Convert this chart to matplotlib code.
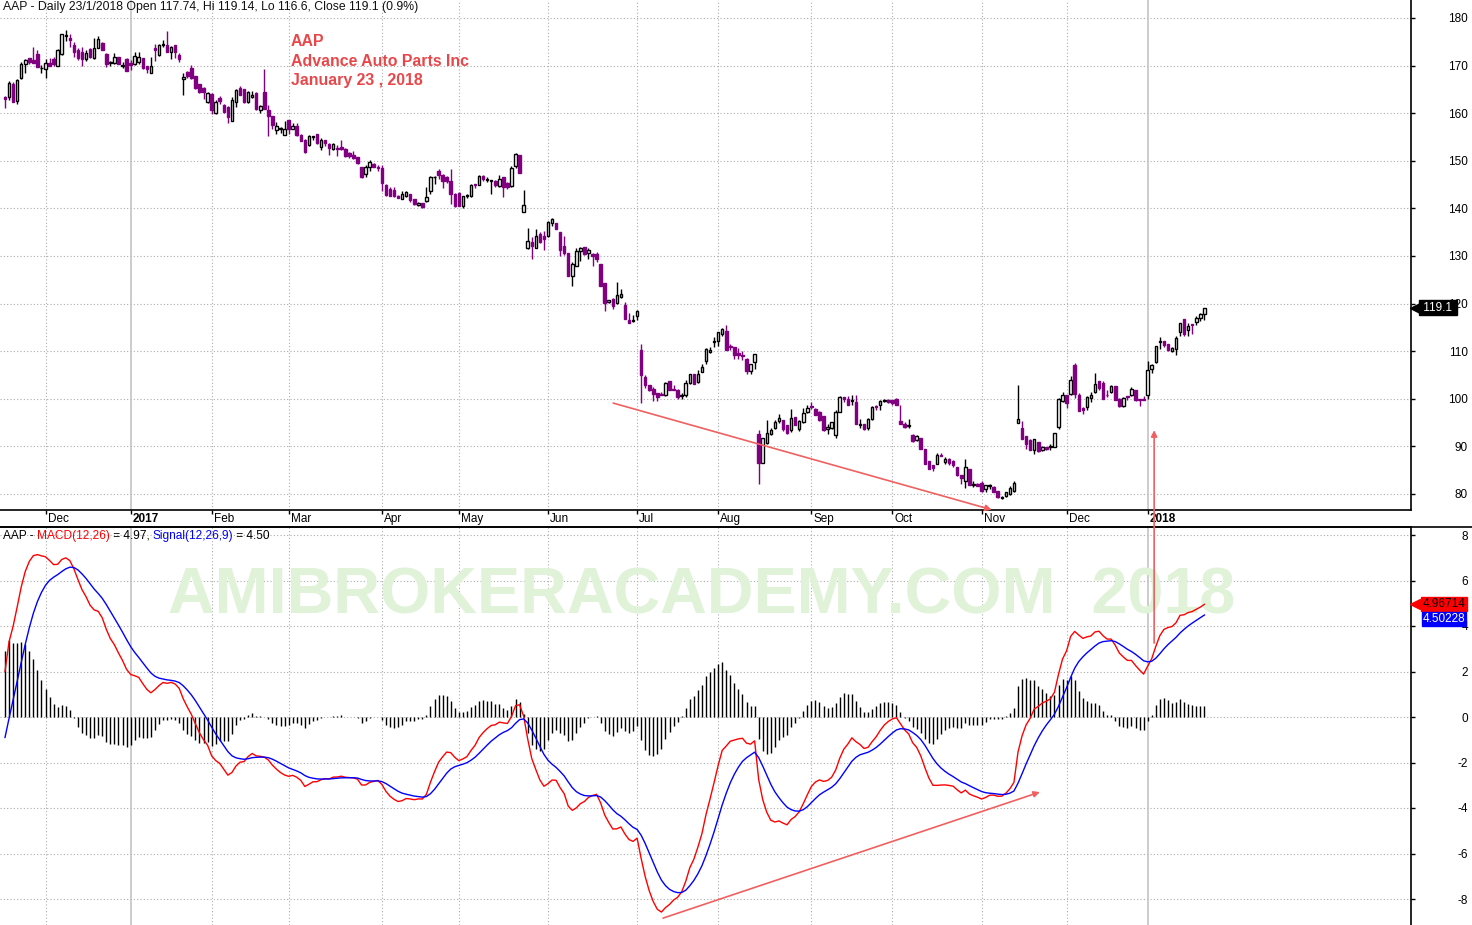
import numpy as np
import matplotlib
matplotlib.use("Agg")
import matplotlib.pyplot as plt
from matplotlib.transforms import blended_transform_factory, ScaledTranslation
from matplotlib.offsetbox import TextArea, HPacker, AnchoredOffsetbox
from matplotlib.lines import Line2D
from matplotlib.patches import ConnectionPatch

plt.rcParams['font.family'] = ['Liberation Sans', 'DejaVu Sans']
plt.rcParams['axes.unicode_minus'] = False

# ---------------- data (AAP daily, 2016-11-16 .. 2018-01-23) ----------------
opens = [
    163.3, 163.3, 166.1, 162.6, 167.4, 170.3, 171.7, 171.1, 172.4, 169.4,
    169.2, 170.5, 171.4, 169.9, 172.4, 176.3, 175.8, 174.3, 173.2, 172.9,
    171.4, 173.4, 171.5, 173.75, 174.7, 172.5, 170.5, 170.6, 171.9, 170.0,
    171.3, 170.5, 170.3, 170.8, 171.5, 170.0, 168.5, 173.6, 172.2, 174.3,
    174.4, 172.9, 174.3, 172.2, 167.2, 168.7, 169.4, 167.8, 166.1, 165.2,
    162.3, 164.0, 160.0, 163.1, 161.7, 161.4, 158.3, 162.3, 165.2, 165.0,
    162.3, 163.3, 164.3, 160.6, 164.4, 160.7, 159.4, 156.4, 156.7, 155.5,
    158.5, 156.6, 157.4, 155.5, 154.4, 153.4, 155.0, 155.7, 152.9, 154.4,
    153.6, 152.5, 152.6, 152.9, 152.5, 151.7, 151.3, 150.8, 148.7, 147.3,
    148.7, 149.4, 148.6, 148.5, 145.0, 144.1, 143.9, 142.7, 142.0, 142.6,
    143.1, 142.0, 140.7, 141.1, 141.5, 143.6, 146.5, 147.8, 147.1, 146.5,
    145.7, 143.1, 143.3, 140.5, 142.6, 142.7, 145.1, 145.0, 146.9, 145.9,
    145.8, 145.8, 144.7, 146.6, 145.4, 144.7, 148.9, 151.2, 139.3, 131.7,
    132.9, 131.7, 134.7, 134.2, 134.2, 137.0, 136.9, 135.1, 132.1, 130.6,
    125.9, 128.0, 131.0, 131.8, 130.6, 130.4, 130.5, 128.4, 124.4, 120.3,
    121.0, 120.2, 121.4, 119.8, 116.5, 116.4, 117.4, 110.3, 104.5, 102.8,
    102.1, 101.2, 101.1, 100.7, 103.7, 102.0, 101.9, 100.6, 100.7, 103.3,
    105.2, 103.5, 105.7, 108.0, 109.8, 111.9, 112.1, 113.6, 114.3, 111.1,
    110.8, 109.6, 109.2, 108.4, 105.9, 107.8, 92.5, 86.5, 90.8, 92.7,
    93.8, 95.3, 95.5, 94.5, 93.4, 96.1, 93.6, 95.2, 97.2, 98.4,
    97.8, 97.3, 96.3, 93.6, 93.9, 92.4, 97.2, 100.3, 100.0, 99.5,
    99.3, 94.6, 94.8, 93.9, 95.8, 98.4, 98.6, 99.5, 99.8, 99.8,
    100.0, 95.3, 94.8, 94.2, 92.4, 91.3, 91.8, 89.5, 86.9, 86.1,
    86.4, 88.2, 86.7, 87.4, 87.0, 85.7, 83.9, 82.8, 85.3, 81.9,
    82.1, 82.3, 81.1, 81.6, 81.5, 80.7, 79.2, 79.5, 80.0, 80.7,
    94.9, 93.9, 92.1, 91.3, 89.2, 90.9, 89.2, 89.8, 89.8, 89.9,
    94.1, 99.5, 100.8, 101.0, 107.1, 100.7, 98.1, 98.3, 100.1, 101.5,
    103.7, 103.3, 100.9, 101.4, 102.6, 100.0, 98.5, 100.5, 100.7, 101.9,
    100.0, 100.0, 100.8, 106.3, 107.7, 111.9, 112.1, 111.6, 110.0, 110.5,
    114.1, 116.7, 114.5, 115.7, 116.2, 117.0, 117.74,
]
highs = [
    163.7, 166.7, 166.5, 167.2, 170.7, 171.4, 171.7, 174.0, 173.2, 170.2,
    171.3, 171.7, 171.8, 173.4, 176.7, 177.5, 176.6, 175.0, 173.6, 173.9,
    173.2, 173.75, 175.7, 176.3, 175.0, 172.7, 170.9, 172.7, 171.9, 170.8,
    171.6, 171.2, 172.9, 172.9, 171.7, 170.0, 171.8, 174.6, 174.6, 175.3,
    177.2, 174.1, 174.3, 172.7, 168.5, 168.8, 170.1, 167.8, 166.1, 165.4,
    164.5, 164.3, 162.8, 163.6, 162.0, 161.6, 163.3, 165.1, 165.7, 165.0,
    164.7, 164.6, 164.4, 161.8, 169.3, 161.7, 159.4, 158.1, 157.2, 158.4,
    158.5, 158.0, 158.0, 155.7, 154.6, 155.5, 155.3, 155.7, 154.8, 154.4,
    153.8, 153.7, 153.3, 154.3, 152.6, 151.8, 152.1, 150.8, 148.7, 149.1,
    150.1, 149.6, 149.1, 149.1, 145.2, 144.5, 144.5, 142.8, 143.6, 143.6,
    143.1, 142.0, 141.4, 141.1, 144.4, 146.8, 146.8, 148.3, 147.3, 146.8,
    148.2, 143.3, 143.4, 142.7, 143.0, 145.2, 145.1, 147.0, 147.0, 146.5,
    146.0, 146.0, 147.0, 146.7, 145.5, 148.9, 151.7, 151.2, 143.8, 135.8,
    133.9, 135.6, 135.0, 135.2, 137.3, 138.0, 137.0, 135.1, 134.1, 130.6,
    128.7, 131.6, 131.8, 131.9, 131.6, 130.7, 130.9, 128.4, 124.4, 120.7,
    121.2, 124.5, 123.1, 120.4, 118.1, 117.6, 118.6, 111.5, 104.9, 102.9,
    102.4, 101.3, 101.4, 103.5, 103.8, 102.8, 102.1, 101.2, 104.0, 105.2,
    105.2, 106.0, 107.3, 110.6, 110.8, 112.9, 114.1, 114.8, 115.4, 111.5,
    110.8, 110.6, 110.0, 108.5, 107.4, 109.5, 93.5, 91.7, 95.5, 93.9,
    95.6, 96.8, 95.5, 94.5, 97.8, 96.1, 95.6, 98.1, 98.6, 99.4,
    98.0, 97.4, 96.4, 94.7, 95.2, 97.7, 100.5, 100.3, 100.5, 100.8,
    100.7, 95.7, 94.8, 95.9, 98.4, 98.6, 99.8, 100.0, 100.0, 99.8,
    100.1, 98.6, 95.1, 95.7, 92.6, 92.3, 91.8, 89.5, 86.9, 86.1,
    88.6, 88.7, 87.8, 87.6, 87.1, 85.7, 83.9, 87.4, 85.3, 82.8,
    82.3, 82.8, 81.9, 82.1, 81.7, 80.7, 79.5, 80.4, 81.6, 82.8,
    102.8, 95.3, 92.1, 91.5, 91.6, 90.9, 90.1, 89.8, 90.5, 92.8,
    100.2, 101.4, 100.8, 104.7, 107.5, 101.2, 98.3, 100.6, 101.4, 105.4,
    103.8, 103.8, 101.8, 102.9, 102.6, 100.1, 100.3, 100.6, 102.5, 101.9,
    100.0, 100.5, 107.9, 107.4, 111.0, 112.9, 112.2, 111.6, 110.8, 113.1,
    116.0, 116.7, 116.0, 115.7, 117.3, 118.1, 119.14,
]
lows = [
    161.0, 162.8, 162.3, 162.0, 167.2, 168.5, 170.3, 170.6, 169.7, 168.4,
    167.5, 170.0, 169.9, 169.9, 172.2, 175.2, 174.0, 171.9, 171.1, 169.9,
    171.0, 171.5, 171.3, 173.6, 173.2, 169.7, 170.0, 170.4, 170.3, 169.4,
    168.8, 169.1, 170.1, 170.4, 169.2, 168.5, 168.5, 171.0, 172.0, 173.9,
    172.9, 171.4, 171.5, 170.7, 163.8, 167.4, 167.2, 165.1, 164.2, 163.0,
    162.2, 159.9, 159.9, 162.0, 160.0, 157.9, 158.3, 161.4, 163.9, 162.2,
    162.1, 163.2, 160.6, 160.0, 160.8, 155.3, 156.7, 155.7, 155.9, 155.4,
    155.7, 156.6, 155.2, 154.2, 151.7, 153.1, 154.3, 153.6, 152.2, 153.1,
    151.2, 152.2, 151.1, 152.2, 150.7, 150.5, 150.3, 149.4, 146.3, 146.6,
    147.8, 148.7, 147.9, 143.6, 142.7, 142.6, 142.5, 142.1, 141.9, 142.4,
    141.4, 140.8, 140.5, 140.1, 141.3, 143.1, 145.1, 146.2, 144.3, 145.4,
    141.0, 140.3, 140.5, 140.1, 142.2, 142.5, 144.2, 144.9, 145.7, 145.6,
    143.1, 144.5, 144.5, 142.4, 144.0, 144.6, 148.4, 147.4, 139.2, 131.4,
    129.4, 131.6, 132.8, 131.3, 134.0, 136.3, 135.6, 130.1, 130.3, 125.9,
    123.7, 127.8, 128.9, 130.3, 129.3, 127.8, 128.7, 123.7, 118.4, 120.1,
    118.9, 120.0, 121.1, 116.7, 115.9, 116.2, 116.5, 99.1, 102.2, 101.7,
    99.6, 99.6, 100.7, 100.6, 101.9, 101.8, 99.9, 100.0, 100.3, 103.1,
    103.1, 103.4, 105.6, 107.3, 109.7, 110.9, 111.0, 113.2, 110.3, 110.2,
    108.4, 108.4, 108.2, 105.2, 105.2, 106.3, 82.2, 86.5, 90.6, 92.3,
    93.7, 95.0, 93.3, 92.7, 93.1, 94.5, 93.2, 95.0, 97.0, 97.9,
    96.6, 95.4, 93.2, 92.7, 93.6, 91.8, 97.2, 99.4, 98.6, 98.7,
    94.8, 93.9, 93.4, 93.4, 95.6, 97.6, 97.7, 99.3, 99.1, 98.8,
    98.6, 94.7, 93.8, 93.9, 91.0, 91.1, 89.4, 86.4, 85.3, 84.9,
    86.2, 87.9, 86.4, 86.1, 85.7, 83.8, 82.1, 81.2, 81.8, 81.4,
    81.6, 80.5, 80.5, 81.1, 80.4, 79.1, 78.9, 79.3, 79.8, 80.5,
    94.9, 91.5, 89.5, 89.2, 88.4, 88.9, 89.1, 89.2, 89.2, 89.8,
    93.6, 99.3, 98.0, 100.8, 100.1, 97.4, 96.8, 97.6, 99.3, 101.3,
    101.9, 100.0, 100.3, 101.2, 99.7, 98.3, 98.3, 99.8, 100.6, 99.5,
    98.5, 99.7, 100.0, 105.5, 107.6, 110.4, 110.9, 110.0, 109.8, 109.2,
    113.1, 113.1, 113.1, 113.6, 115.6, 116.3, 116.6,
]
closes = [
    163.0, 166.25, 162.4, 166.9, 170.3, 171.1, 170.8, 170.6, 169.7, 169.6,
    170.6, 170.0, 170.3, 173.2, 176.7, 176.5, 175.3, 172.9, 171.5, 171.4,
    172.7, 171.8, 173.6, 175.5, 173.2, 170.3, 170.7, 171.8, 170.4, 170.2,
    168.9, 170.2, 172.0, 171.9, 169.4, 169.2, 169.9, 173.3, 174.3, 174.5,
    172.9, 174.0, 172.9, 171.4, 167.7, 167.8, 167.4, 165.3, 164.4, 164.5,
    164.2, 160.6, 162.3, 162.5, 160.2, 159.2, 162.8, 164.9, 163.9, 162.3,
    164.5, 163.8, 160.9, 161.5, 160.9, 159.5, 157.6, 157.3, 156.9, 156.6,
    156.6, 157.3, 155.5, 154.2, 151.8, 155.2, 155.2, 153.8, 154.4, 153.8,
    152.7, 153.5, 152.4, 152.4, 151.1, 151.0, 150.6, 149.6, 146.6, 148.7,
    149.7, 148.7, 148.4, 145.4, 142.9, 142.7, 142.6, 142.2, 143.1, 143.4,
    141.7, 141.0, 141.2, 140.3, 142.4, 146.6, 146.7, 147.1, 145.7, 145.7,
    143.1, 140.6, 140.5, 142.6, 142.9, 145.0, 145.0, 146.9, 146.1, 146.1,
    146.0, 145.0, 146.1, 144.5, 144.5, 148.5, 151.5, 147.4, 140.8, 133.1,
    132.1, 134.2, 132.9, 133.5, 137.2, 137.7, 135.6, 131.2, 130.7, 125.9,
    128.4, 131.0, 131.7, 130.5, 131.3, 130.1, 129.4, 123.7, 120.2, 120.7,
    119.6, 121.9, 122.1, 116.7, 116.0, 116.6, 118.4, 105.0, 102.9, 101.9,
    101.0, 100.3, 100.9, 103.3, 101.9, 101.8, 100.3, 100.9, 103.3, 105.2,
    103.1, 105.2, 106.6, 110.5, 110.3, 112.1, 114.0, 114.6, 110.3, 110.9,
    109.3, 109.3, 109.0, 105.9, 107.3, 109.4, 86.5, 91.7, 92.9, 93.4,
    95.2, 95.9, 93.6, 92.9, 95.9, 94.6, 95.3, 97.1, 98.0, 98.2,
    96.7, 95.5, 93.4, 94.1, 95.1, 97.3, 100.3, 100.0, 98.7, 99.8,
    94.8, 94.8, 93.6, 95.8, 98.2, 98.3, 99.6, 99.7, 99.3, 99.1,
    98.7, 94.8, 94.1, 94.4, 91.1, 92.2, 89.4, 86.4, 85.3, 85.4,
    88.1, 87.9, 87.4, 86.6, 86.0, 83.9, 83.3, 85.7, 81.9, 82.1,
    81.6, 80.7, 81.8, 81.9, 80.5, 79.3, 79.4, 80.4, 81.2, 82.3,
    95.8, 91.5, 90.4, 89.2, 91.5, 89.0, 89.8, 89.4, 90.0, 92.8,
    100.0, 100.9, 99.2, 104.0, 101.0, 97.4, 97.7, 100.4, 100.8, 103.1,
    102.3, 100.0, 100.7, 102.6, 99.7, 98.5, 100.1, 100.3, 102.1, 99.7,
    99.7, 99.7, 106.1, 107.1, 111.0, 112.1, 111.4, 110.3, 110.6, 112.8,
    115.9, 113.6, 115.2, 115.5, 116.9, 117.9, 119.1,
]

# month boundaries (bar index of first session of the month) and labels
month_pos = [10, 31, 51, 70, 93, 112, 134, 156, 176, 199, 219, 241, 262, 282]
month_labels = ['Dec', '2017', 'Feb', 'Mar', 'Apr', 'May', 'Jun', 'Jul',
                'Aug', 'Sep', 'Oct', 'Nov', 'Dec', '2018']

price_ticks = [80, 90, 100, 110, 120, 130, 140, 150, 160, 170, 180]
macd_ticks = [-8, -6, -4, -2, 0, 2, 4, 6, 8]

# indicator state at the first visible bar
ema12_seed = 148.0
ema26_seed = 146.0
signal_seed = -0.9

last_close_label = "119.1"
macd_label_value = 4.96714
signal_label_value = 4.50228

# ---------------- figure layout ----------------
W, H = 1472, 925
fig = plt.figure(figsize=(W / 100, H / 100), dpi=100)
fig.patch.set_facecolor('white')


def fy(py):
    return 1 - py / H


AXR = 1411
ax1 = fig.add_axes([0, fy(510), AXR / W, 510 / H])
ax2 = fig.add_axes([0, 0, AXR / W, (H - 527) / H])
ax2.patch.set_alpha(0)

o = np.array(opens)
hi = np.array(highs)
lo = np.array(lows)
c = np.array(closes)
n = len(c)
idx = np.arange(n)

step = 4.052
xlim = (-5 / step, (AXR - 5) / step)
for ax in (ax1, ax2):
    ax.set_xlim(*xlim)
ax1.set_ylim(180 - (510 - 18) / 4.76, 180 + 18 / 4.76)
ax2.set_ylim((717 - 925) / 22.75, (717 - 527) / 22.75)

# grid
grid_col = '#ADADAD'
dot = (0, (1, 2))
for ax, yt in ((ax1, price_ticks), (ax2, macd_ticks)):
    for y in yt:
        ax.axhline(y, color=grid_col, lw=0.8, ls=dot, zorder=0.5)
    for p, lab in zip(month_pos, month_labels):
        if lab.isdigit():
            ax.axvline(p, color='#BEBEBE', lw=1.1, zorder=0.5)
        else:
            ax.axvline(p, color=grid_col, lw=0.8, ls=dot, zorder=0.5)

# candles
purple = '#800080'
up = c >= o
ax1.vlines(idx[up], lo[up], hi[up], color='black', lw=1.0, zorder=2)
ax1.vlines(idx[~up], lo[~up], hi[~up], color=purple, lw=1.0, zorder=2)
body_lo = np.minimum(o, c)
body_h = np.maximum(np.abs(c - o), 0.15)
ax1.bar(idx[up], body_h[up], bottom=body_lo[up], width=0.62,
        facecolor='white', edgecolor='black', linewidth=1.0, zorder=3)
ax1.bar(idx[~up], body_h[~up], bottom=body_lo[~up], width=0.62,
        facecolor=purple, edgecolor=purple, linewidth=1.0, zorder=3)

# MACD(12,26), Signal(9)
a12, a26, a9 = 2 / 13, 2 / 27, 2 / 10
e12 = np.empty(n)
e26 = np.empty(n)
sig = np.empty(n)
e12[0], e26[0] = ema12_seed, ema26_seed
sig[0] = signal_seed
for t in range(1, n):
    e12[t] = e12[t - 1] + a12 * (c[t] - e12[t - 1])
    e26[t] = e26[t - 1] + a26 * (c[t] - e26[t - 1])
macd = e12 - e26
for t in range(1, n):
    sig[t] = sig[t - 1] + a9 * (macd[t] - sig[t - 1])
hist = macd - sig

ax2.text(702 / AXR, (925 - 613) / 398, "AMIBROKERACADEMY.COM  2018",
         transform=ax2.transAxes, ha='center', va='baseline',
         fontsize=46.5, fontweight='bold', color='#E0F2D8', zorder=0.6)
ax2.vlines(idx, 0, hist, color='black', lw=1.0, zorder=2)
ax2.plot(idx, macd, color='#FF0000', lw=1.0, zorder=3)
ax2.plot(idx, sig, color='#0000FF', lw=1.0, zorder=3)

# axes styling
for ax in (ax1, ax2):
    ax.yaxis.tick_right()
    ax.tick_params(axis='y', direction='out', length=3, width=1, pad=38,
                   labelsize=8.5, colors='black')
ax1.set_yticks(price_ticks)
ax1.set_yticklabels([str(v) for v in price_ticks])
ax2.set_yticks(macd_ticks)
ax2.set_yticklabels([str(v) for v in macd_ticks])
for ax in (ax1, ax2):
    for t in ax.get_yticklabels():
        t.set_ha('right')

ax1.set_xticks(month_pos)
ax1.set_xticklabels(month_labels)
ax1.tick_params(axis='x', direction='out', length=3, width=1, pad=0,
                labelsize=8.5)
for t, lab in zip(ax1.get_xticklabels(), month_labels):
    t.set_ha('left')
    if lab.isdigit():
        t.set_fontweight('bold')
    t.set_transform(t.get_transform() + ScaledTranslation(2 / 100, 1.5 / 100, fig.dpi_scale_trans))
ax2.set_xticks([])

for sp in ('top', 'left'):
    ax1.spines[sp].set_visible(False)
for sp in ('bottom', 'left'):
    ax2.spines[sp].set_visible(False)
for ax in (ax1, ax2):
    for sp in ax.spines.values():
        sp.set_linewidth(1.2)
fig.add_artist(Line2D([0, 1], [fy(527), fy(527)], color='black', lw=1.2,
                      transform=fig.transFigure))

# texts
fig.text(3 / W, fy(7), "AAP - Daily 23/1/2018 Open 117.74, Hi 119.14, Lo 116.6, Close 119.1 (0.9%)",
         fontsize=8.85, ha='left', va='center', color='#111111')
for yy, s in ((42, "AAP"), (61, "Advance Auto Parts Inc"), (80, "January 23 , 2018")):
    fig.text(291 / W, fy(yy), s, fontsize=11.4, fontweight='bold', color='#E8474A',
             ha='left', va='center')

parts = [("AAP - ", 'black'), ("MACD(12,26)", '#FF0000'), (" = 4.97, ", 'black'),
         ("Signal(12,26,9)", '#0000FF'), (" = 4.50", 'black')]
boxes = [TextArea(s, textprops=dict(color=col, fontsize=8.6)) for s, col in parts]
hp = HPacker(children=boxes, align='baseline', pad=0, sep=0)
ab = AnchoredOffsetbox(loc='upper left', child=hp, pad=0, frameon=False,
                       bbox_to_anchor=(3 / W, fy(530)), bbox_transform=fig.transFigure,
                       borderpad=0)
fig.add_artist(ab)

# value tags on the right axis (they cover the axis labels, as in the original)
tr1 = blended_transform_factory(ax1.transAxes, ax1.transData)
ax1.annotate(" " + last_close_label + " ", xy=(1, float(last_close_label)), xycoords=tr1,
             xytext=(27, 0), textcoords='offset pixels', ha='center', va='center',
             fontsize=8.5, color='white', zorder=10, annotation_clip=False,
             bbox=dict(boxstyle='square,pad=0.12', fc='black', ec='black'))
ax1.plot([1], [float(last_close_label)], marker='<', ms=7, color='black', clip_on=False,
         transform=tr1 + ScaledTranslation(4 / 100, 0, fig.dpi_scale_trans), zorder=10)

tr2 = blended_transform_factory(ax2.transAxes, ax2.transData)
ax2.annotate("%.5f" % macd_label_value, xy=(1, macd_label_value), xycoords=tr2,
             xytext=(33, 0), textcoords='offset pixels', ha='center', va='center',
             fontsize=8.5, color='black', zorder=10, annotation_clip=False,
             bbox=dict(boxstyle='square,pad=0.1', fc='#FF0000', ec='#FF0000'))
ax2.plot([1], [macd_label_value], marker='<', ms=7, color='#FF0000', clip_on=False,
         transform=tr2 + ScaledTranslation(4 / 100, 0, fig.dpi_scale_trans), zorder=10)
ax2.annotate("%.5f" % signal_label_value, xy=(1, signal_label_value), xycoords=tr2,
             xytext=(33, -4.5), textcoords='offset pixels', ha='center', va='center',
             fontsize=8.5, color='white', zorder=11, annotation_clip=False,
             bbox=dict(boxstyle='square,pad=0.1', fc='#0000FF', ec='#0000FF'))

# trend annotations
acol = '#F06060'
aprops = dict(arrowstyle='-|>', color=acol, lw=1.2, mutation_scale=9, shrinkA=0, shrinkB=0)
ax1.annotate('', xy=(243.5, 76.7), xytext=(150.1, 99.1), arrowprops=aprops,
             annotation_clip=False, zorder=6)
ax2.annotate('', xy=(255.4, -3.30), xytext=(162.4, -8.84), arrowprops=aprops,
             annotation_clip=False, zorder=6)
cp = ConnectionPatch(xyA=(283.6, 3.25), coordsA=ax2.transData,
                     xyB=(283.6, 93.4), coordsB=ax1.transData,
                     arrowstyle='-|>', color=acol, lw=1.2, mutation_scale=9,
                     shrinkA=0, shrinkB=0, zorder=6)
fig.add_artist(cp)

fig.savefig("out.png", dpi=100, facecolor='white')
